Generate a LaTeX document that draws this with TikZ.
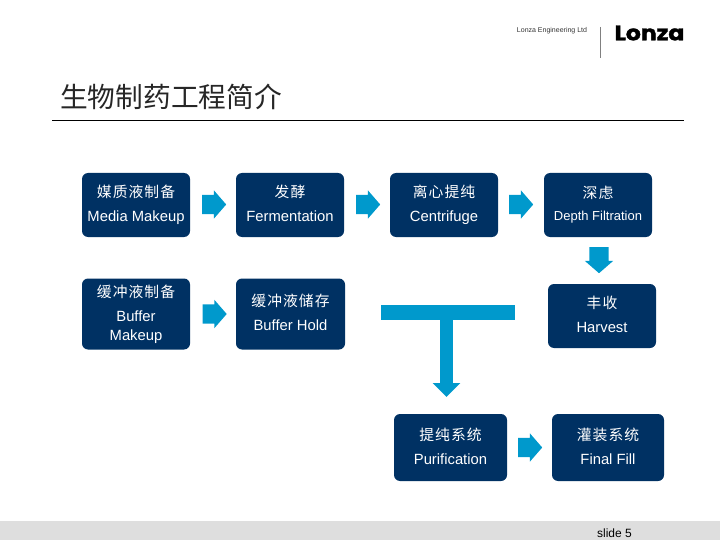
\documentclass[tikz,border=0pt]{standalone}
\usepackage{fontspec}
\usetikzlibrary{shapes.arrows,arrows.meta}
\setmainfont{Liberation Sans}
\newfontfamily\cjk[LetterSpace=7]{Noto Sans CJK SC}
\newfontfamily\cjktitle{Noto Sans CJK SC}
\newfontfamily\logofont[BoldFeatures={FakeBold=1.5}]{Poppins}
\definecolor{navybox}{HTML}{003163}
\definecolor{flowblue}{HTML}{0099CC}
\definecolor{footgrey}{HTML}{DEDEDE}
\newcommand{\stagetext}[2]{{\cjk #1}\\#2\vphantom{p}}
\tikzset{
  stagebox/.style={rectangle, rounded corners=6pt, fill=navybox, text=white, inner sep=0pt,
      align=center, font=\fontsize{14.8}{24}\selectfont},
  flowarrow/.style={single arrow, fill=flowblue, inner sep=0pt, inner ysep=9.5pt,
      single arrow head extend=4.5pt, single arrow tip angle=98, minimum width=28pt,
      minimum height=24pt, anchor=tail},
}
\begin{document}
\begin{tikzpicture}[x=1pt,y=-1pt]
\useasboundingbox (0,0) rectangle (720,540);
% header
\node[font=\fontsize{7}{8}\selectfont, text=black!80, inner sep=0pt] (company) at (552,31) {Lonza Engineering Ltd};
\node[font=\logofont\bfseries\fontsize{21}{22}\selectfont, inner sep=0pt, transform shape, xscale=1.12] (logo) at (649.5,33) {Lonza};
\coordinate (bartop) at (600.5,27);
\coordinate (barfoot) at (600.5,58);
\draw[black!50, line width=1.8pt] (bartop) -- (barfoot);
\node[font=\cjktitle\fontsize{27.7}{30}\selectfont, inner sep=0pt, text=black!85] (title) at (171,97) {生物制药工程简介};
\coordinate (ruleleft) at (52,120.5);
\coordinate (ruleright) at (684,120.5);
\draw[black, line width=0.8pt] (ruleleft) -- (ruleright);
% stages
\node[stagebox, minimum width=108pt, minimum height=64pt] (media) at (136,205) {\stagetext{媒质液制备}{Media Makeup}};
\node[stagebox, minimum width=108pt, minimum height=64pt] (ferment) at (290,205) {\stagetext{发酵}{Fermentation}};
\node[stagebox, minimum width=108pt, minimum height=64pt] (centri) at (444,205) {\stagetext{离心提纯}{Centrifuge}};
\node[stagebox, minimum width=108pt, minimum height=64pt] (depth) at (598,205) {{\cjk 深虑}\\[-2pt]\fontsize{13}{23}\selectfont Depth Filtration\vphantom{p}};
\node[stagebox, minimum width=108pt, minimum height=71pt] (buffermk) at (136,314) {{\cjk 缓冲液制备}\\Buffer\\[-5pt]Makeup\vphantom{p}};
\node[stagebox, minimum width=109pt, minimum height=71pt] (bufferhd) at (290.5,314) {\stagetext{缓冲液储存}{Buffer Hold}};
\node[stagebox, minimum width=108pt, minimum height=64pt] (harvest) at (602,316) {\stagetext{丰收}{Harvest}};
\node[stagebox, minimum width=113pt, minimum height=67pt] (purify) at (450.5,447.5) {\stagetext{提纯系统}{Purification}};
\node[stagebox, minimum width=112pt, minimum height=67pt] (fill) at (608,447.5) {\stagetext{灌装系统}{Final Fill}};
% arrows
\node[flowarrow] (arrowa) at (202,204.5) {};
\node[flowarrow] (arrowb) at (356,204.5) {};
\node[flowarrow] (arrowc) at (509,204.5) {};
\node[flowarrow, shape border rotate=270, inner ysep=0pt, inner xsep=9.5pt, minimum height=26pt] (arrowd) at (599,247) {};
\node[flowarrow] (arrowe) at (202.5,314) {};
\node[flowarrow] (arrowf) at (518,447.5) {};
% T connector
\node[fill=flowblue, inner sep=0pt, minimum width=134pt, minimum height=15pt] (tbar) at (448,312.5) {};
\coordinate (ttip) at (446.5,397);
\draw[flowblue, line width=13pt, -{Triangle[length=14pt,width=27pt]}] (tbar.south -| ttip) -- (ttip);
% footer
\fill[footgrey] (0,521) rectangle (720,540);
\node[font=\fontsize{12}{14}\selectfont, inner sep=0pt] (slidenum) at (614.5,533) {slide 5};
\end{tikzpicture}
\end{document}
